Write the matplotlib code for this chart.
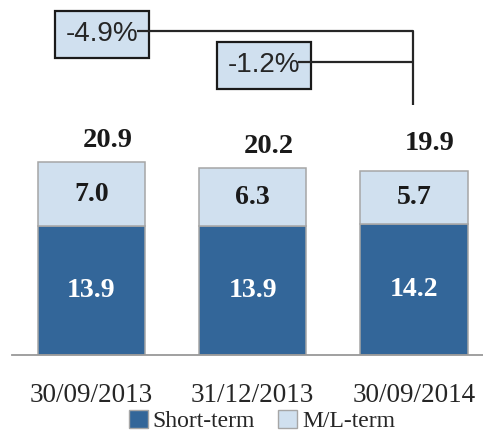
import matplotlib
matplotlib.use("Agg")
import matplotlib.pyplot as plt
from matplotlib.patches import Patch

categories = ["30/09/2013", "31/12/2013", "30/09/2014"]
short_term = [13.9, 13.9, 14.2]
ml_term = [7.0, 6.3, 5.7]
totals = [20.9, 20.2, 19.9]
changes = ["-4.9%", "-1.2%"]

dark = "#336699"
light = "#D0E0EF"
edge = "#A6A6A6"
serif = "Liberation Serif"

fig = plt.figure(figsize=(4.83, 4.34), dpi=100)
ax = fig.add_axes([12/483, 79/434, 471/483, 355/434])
x = list(range(len(categories)))
w = 0.664
ax.bar(x, short_term, w, color=dark, edgecolor=edge, linewidth=1.1, label="Short-term", zorder=2)
ax.bar(x, ml_term, w, bottom=short_term, color=light, edgecolor=edge, linewidth=1.1, label="M/L-term", zorder=2)

ax.set_xlim(-0.493, 2.428)
ax.set_ylim(0, 38.4)

for xi, s, m, t, dy in zip(x, short_term, ml_term, totals, [6, 7, 11]):
    ax.text(xi, s / 2, f"{s:.1f}", ha="center", va="center", color="white",
            fontsize=20, fontweight="bold", family=serif, zorder=3)
    ax.text(xi, s + m / 2, f"{m:.1f}", ha="center", va="center", color="#1a1a1a",
            fontsize=20, fontweight="bold", family=serif, zorder=3)
    ax.annotate(f"{t:.1f}", (xi + 0.1, t), xytext=(0, dy), textcoords="offset points",
                ha="center", va="bottom", color="#1a1a1a", fontsize=20.5,
                fontweight="bold", family=serif)

# change connectors
ax.plot([0.28, 1.994, 1.994], [35.0, 35.0, 27.0], color="#262626", lw=1.6, zorder=5, solid_capstyle="butt")
ax.plot([1.28, 1.994], [31.7, 31.7], color="#262626", lw=1.6, zorder=5, solid_capstyle="butt")
bbox = dict(boxstyle="square,pad=0.38", facecolor=light, edgecolor="#1a1a1a", linewidth=1.6)
ax.text(0.065, 34.7, changes[0], ha="center", va="center", fontsize=20,
        family="Liberation Sans", color="#262626", bbox=bbox, zorder=4)
ax.text(1.07, 31.35, changes[1], ha="center", va="center", fontsize=20,
        family="Liberation Sans", color="#262626", bbox=bbox, zorder=4)

for s in ["top", "right", "left"]:
    ax.spines[s].set_visible(False)
ax.spines["bottom"].set_color("#999999")
ax.spines["bottom"].set_linewidth(1.3)
ax.set_yticks([])
ax.set_xticks(x)
ax.set_xticklabels(categories, fontsize=19.5, family=serif, color="#262626")
ax.tick_params(axis="x", length=0, pad=20)

handles = [Patch(facecolor=dark, edgecolor=edge), Patch(facecolor=light, edgecolor=edge)]
fig.legend(handles, ["Short-term", "M/L-term"], loc="center", bbox_to_anchor=(262/483, 1 - 421/434),
           ncol=2, frameon=False, prop={"family": serif, "size": 17},
           handlelength=0.8, handleheight=0.8, handletextpad=0.2, columnspacing=1.0,
           labelcolor="#262626", borderpad=0.1)

fig.savefig("out.png", dpi=100)
